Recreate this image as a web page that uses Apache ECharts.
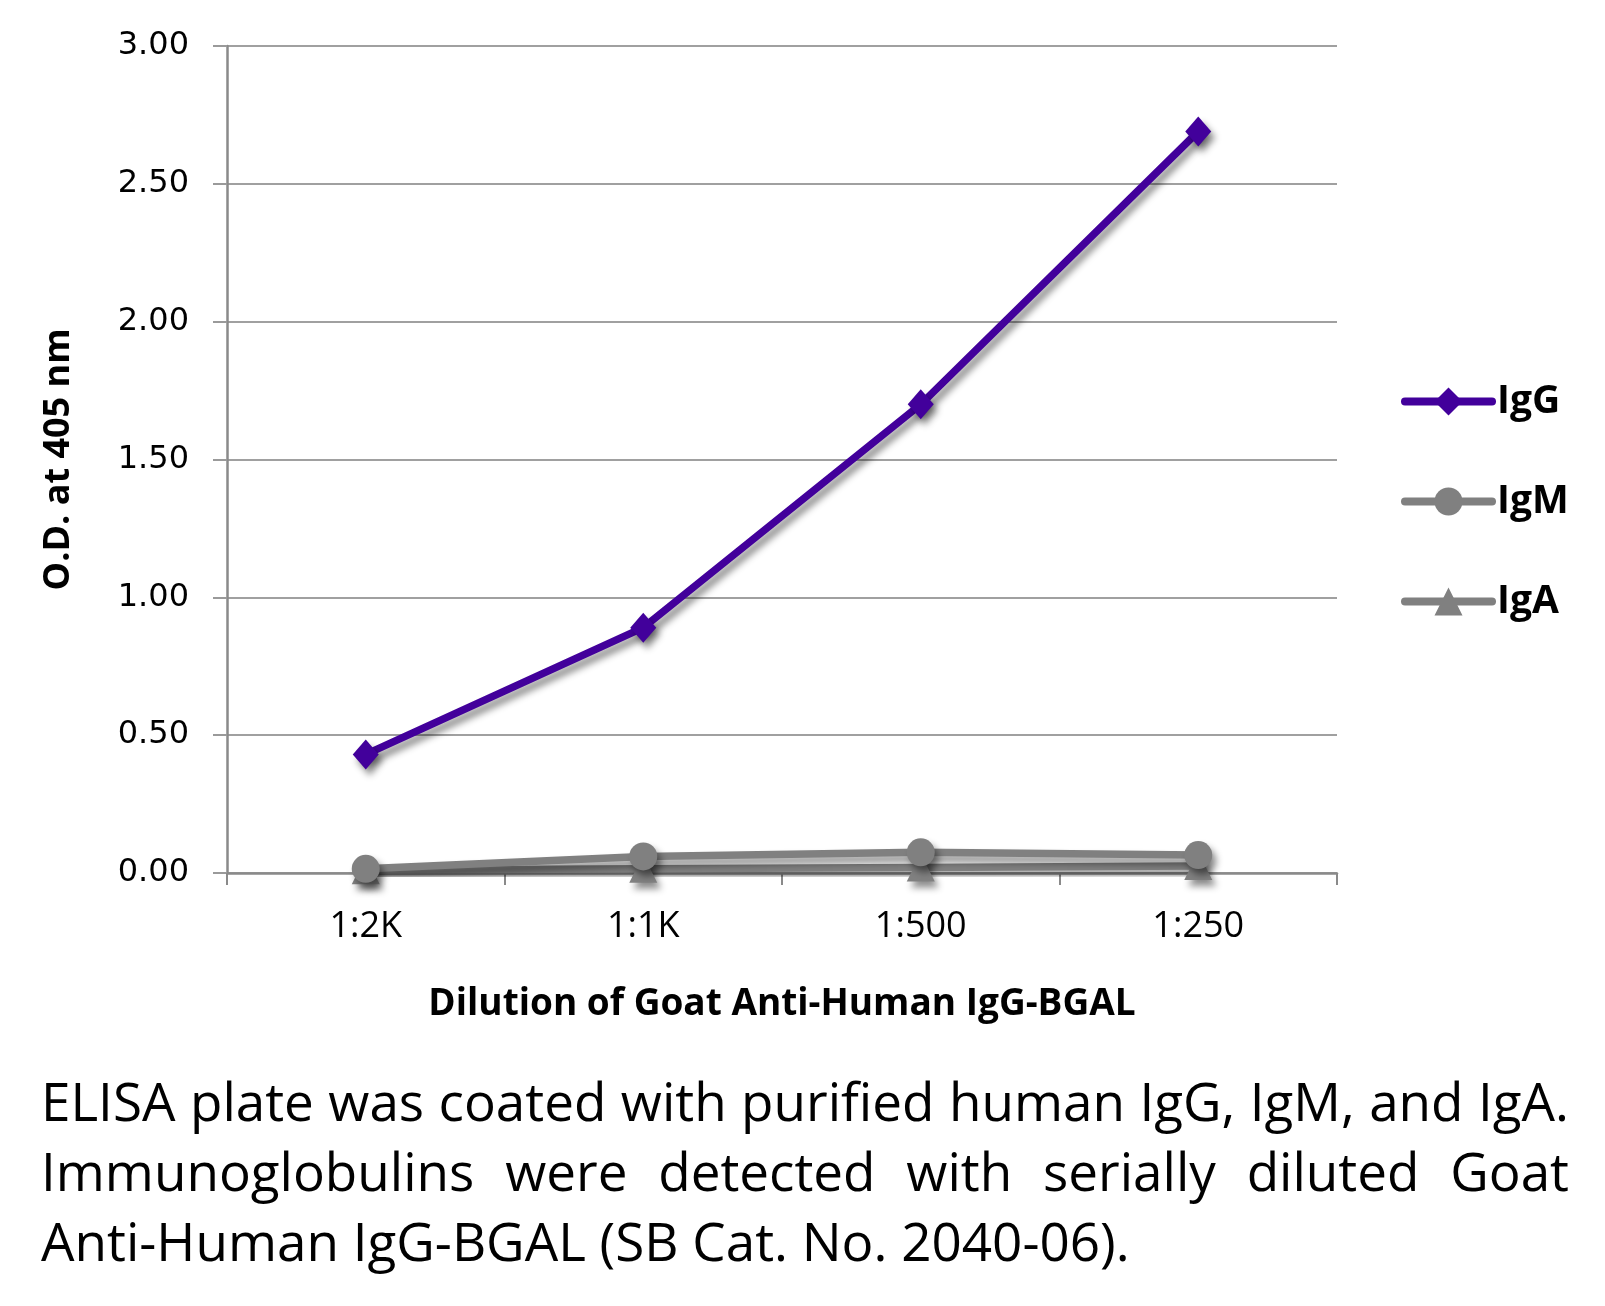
<!DOCTYPE html>
<html><head><meta charset="utf-8">
<script src="https://cdn.jsdelivr.net/npm/echarts@6/dist/echarts.min.js"></script>
<style>
html,body{margin:0;padding:0;background:#fff;width:1605px;height:1306px;overflow:hidden}
#chart{position:absolute;left:0;top:0;width:1605px;height:1306px}
#caption{position:absolute;left:41px;top:1066px;width:1528px;font-family:"Open Sans";font-size:53px;line-height:70px;color:#000}
#caption .ln{display:block;white-space:nowrap;height:70px}
#caption .ln span{display:inline-block;white-space:nowrap;transform-origin:0 0}
</style>
</head><body>
<div id="chart"></div>
<div id="caption"></div>
<script>
const categories = ['1:2K', '1:1K', '1:500', '1:250'];
const igG = [0.43, 0.89, 1.70, 2.69];
const igM = [0.015, 0.06, 0.075, 0.065];
const igA = [0.01, 0.015, 0.02, 0.025];
const yMin = 0, yMax = 3, yStep = 0.5;
const xTitle = 'Dilution of Goat Anti-Human IgG-BGAL';
const yTitle = 'O.D. at 405 nm';
const captionLines = [
  'ELISA plate was coated with purified human IgG, IgM, and IgA.',
  'Immunoglobulins were detected with serially diluted Goat',
  'Anti-Human IgG-BGAL (SB Cat. No. 2040-06).'
];

const purple = '#42009B', gray = '#808080';
const shadow = {shadowColor: 'rgba(0,0,0,0.45)', shadowBlur: 7, shadowOffsetX: 4, shadowOffsetY: 6};
const noShadow = {shadowColor: 'transparent', shadowBlur: 0, shadowOffsetX: 0, shadowOffsetY: 0};

function mk(name, data, color, symbol, size, z) {
  return {
    name, type: 'line', data, symbol, symbolSize: size, z,
    lineStyle: Object.assign({color, width: 7.5, cap: 'round', join: 'round'}, shadow),
    itemStyle: Object.assign({color}, shadow),
    emphasis: {disabled: true}
  };
}

const chart = echarts.init(document.getElementById('chart'));
chart.setOption({
  animation: false,
  backgroundColor: '#fff',
  grid: {left: 227, right: 268, top: 46, bottom: 433, containLabel: false},
  legend: {
    orient: 'vertical', left: 1396, top: 377,
    itemWidth: 87, itemHeight: 35, itemGap: 61,
    data: ['IgG', 'IgM', 'IgA'],
    textStyle: {fontFamily: 'Open Sans', fontWeight: 'bold', fontSize: 39, color: '#000', lineHeight: 35},
    itemStyle: noShadow,
    lineStyle: Object.assign({width: 8, cap: 'round'}, noShadow),
    selectedMode: false
  },
  xAxis: {
    type: 'category', data: categories, boundaryGap: true,
    name: xTitle, nameLocation: 'middle', nameGap: 113,
    nameTextStyle: {fontFamily: 'Open Sans', fontWeight: 'bold', fontSize: 37, color: '#000'},
    axisLine: {lineStyle: {color: '#8a8a8a', width: 2.5}},
    axisTick: {show: true, length: 12, lineStyle: {color: '#8a8a8a', width: 2}},
    axisLabel: {margin: 36, fontFamily: 'Open Sans', fontSize: 36, color: '#000'},
    splitLine: {show: false}
  },
  yAxis: {
    type: 'value', min: yMin, max: yMax, interval: yStep,
    name: yTitle, nameLocation: 'middle', nameGap: 150, nameRotate: 90,
    nameTextStyle: {fontFamily: 'Open Sans', fontWeight: 'bold', fontSize: 36, color: '#000'},
    axisLine: {show: true, lineStyle: {color: '#8a8a8a', width: 2.5}},
    axisTick: {show: true, length: 14, lineStyle: {color: '#9a9a9a', width: 2}},
    axisLabel: {margin: 38, fontFamily: 'DejaVu Sans', fontSize: 32, color: '#000',
      formatter: v => v.toFixed(2)},
    splitLine: {show: true, lineStyle: {color: '#a0a0a0', width: 2}}
  },
  series: [
    mk('IgA', igA, gray, 'triangle', 28, 2),
    mk('IgM', igM, gray, 'circle', 28, 3),
    mk('IgG', igG, purple, 'diamond', [26, 30], 4)
  ]
});

// caption, justified like the reference
const cap = document.getElementById('caption');
const target = 1528;
const spans = captionLines.map(t => {
  const d = document.createElement('div'); d.className = 'ln';
  const s = document.createElement('span'); s.textContent = t;
  d.appendChild(s); cap.appendChild(d); return s;
});
const w0 = spans[0].getBoundingClientRect().width;
const sc = Math.min(1, target / w0);
spans.forEach((s, i) => {
  const w = s.getBoundingClientRect().width;
  const n = (captionLines[i].match(/ /g) || []).length;
  if (i < 2 && n > 0) {
    const ws = (target / sc - w) / n;
    s.style.wordSpacing = ws + 'px';
  }
  s.style.transform = 'scaleX(' + sc + ')';
});
</script>
</body></html>
